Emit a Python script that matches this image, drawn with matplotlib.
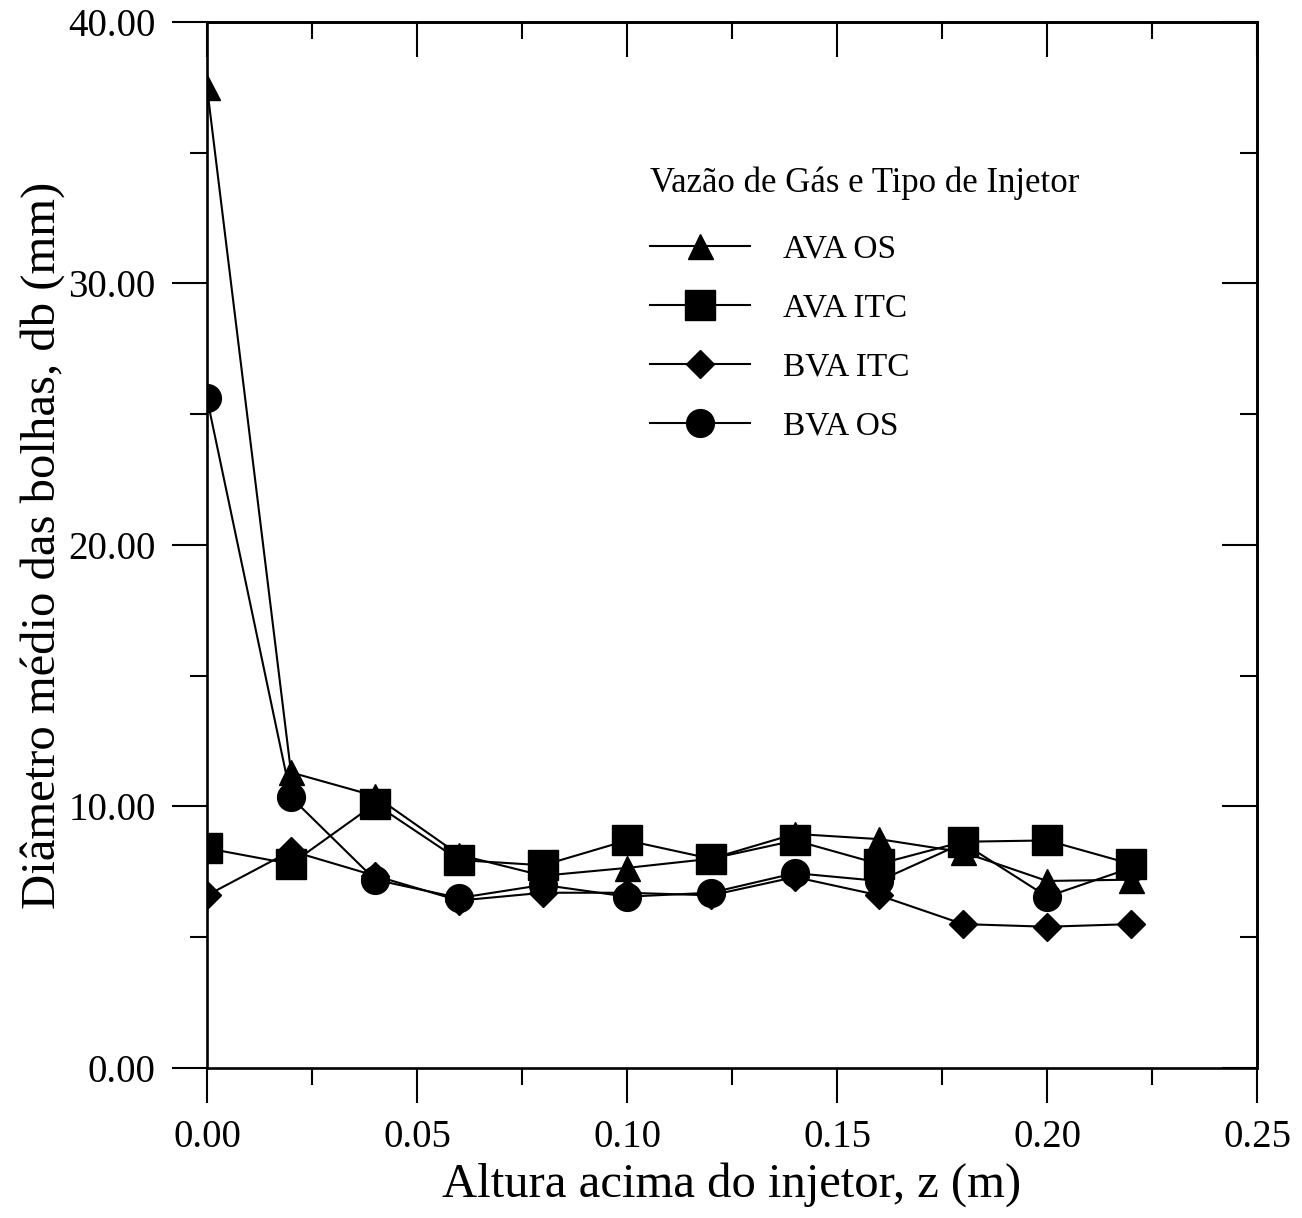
"""
Diâmetro médio das bolhas vs altura acima do injetor.
Recria o gráfico (estilo SigmaPlot) com matplotlib.
"""

import matplotlib
matplotlib.use("Agg")
import matplotlib.pyplot as plt
from matplotlib.ticker import MultipleLocator, FormatStrFormatter

# dados
z = [0.00, 0.02, 0.04, 0.06, 0.08, 0.10, 0.12, 0.14, 0.16, 0.18, 0.20, 0.22]

ava_os = [37.5, 11.3, 10.4, 8.15, 7.35, 7.65, 8.0, 8.95, 8.75, 8.25, 7.15, 7.2]
ava_itc = [8.4, 7.8, 10.1, 7.95, 7.75, 8.7, 8.0, 8.7, 7.8, 8.65, 8.7, 7.8]
bva_itc = [6.6, 8.3, 7.35, 6.4, 6.7, 6.7, 6.6, 7.3, 6.6, 5.5, 5.4, 5.5]
bva_os = [25.6, 10.35, 7.2, 6.5, 7.0, 6.55, 6.7, 7.45, 7.15, 8.6, 6.55, 7.65]

labels = ["AVA OS", "AVA ITC", "BVA ITC", "BVA OS"]

plt.rcParams["font.family"] = ["Liberation Serif", "DejaVu Serif"]

fig = plt.figure(figsize=(13.02, 12.18), dpi=100)
ax = fig.add_axes([0.159, 0.1232, 0.8065, 0.8588])

lw = 1.5
ax.plot(z, ava_os, "k-", lw=lw, marker="^", ms=18, label=labels[0])
ax.plot(z, ava_itc, "k-", lw=lw, marker="s", ms=21, label=labels[1])
ax.plot(z, bva_itc, "k-", lw=lw, marker="D", ms=14, label=labels[2])
ax.plot(z, bva_os, "k-", lw=lw, marker="o", ms=20, label=labels[3])

ax.set_xlim(0, 0.25)
ax.set_ylim(0, 40)

ax.xaxis.set_major_locator(MultipleLocator(0.05))
ax.xaxis.set_minor_locator(MultipleLocator(0.025))
ax.yaxis.set_major_locator(MultipleLocator(10))
ax.yaxis.set_minor_locator(MultipleLocator(5))
ax.xaxis.set_major_formatter(FormatStrFormatter("%.2f"))
ax.yaxis.set_major_formatter(FormatStrFormatter("%.2f"))

for s in ax.spines.values():
    s.set_linewidth(1.9)

# ticks para fora em baixo/esquerda, para dentro em cima/direita
ax.tick_params(which="both", direction="out", width=1.5, labelsize=28,
               bottom=True, left=True, top=False, right=False)
ax.tick_params(which="major", length=25, pad=12)
ax.tick_params(which="minor", length=12)

ax_top = ax.secondary_xaxis("top")
ax_top.xaxis.set_major_locator(MultipleLocator(0.05))
ax_top.xaxis.set_minor_locator(MultipleLocator(0.025))
ax_top.tick_params(which="both", direction="in", width=1.5, labeltop=False)
ax_top.tick_params(which="major", length=25)
ax_top.tick_params(which="minor", length=12)
ax_top.spines["top"].set_linewidth(1.9)

ax_r = ax.secondary_yaxis("right")
ax_r.yaxis.set_major_locator(MultipleLocator(10))
ax_r.yaxis.set_minor_locator(MultipleLocator(5))
ax_r.tick_params(which="both", direction="in", width=1.5, labelright=False)
ax_r.tick_params(which="major", length=25)
ax_r.tick_params(which="minor", length=12)
ax_r.spines["right"].set_linewidth(1.9)

ax.set_xlabel("Altura acima do injetor, z (m)", fontsize=35, labelpad=4)
ax.set_ylabel("Diâmetro médio das bolhas, db (mm)", fontsize=35, labelpad=2)

leg = ax.legend(loc="upper left", bbox_to_anchor=(0.422, 0.862),
                frameon=False, fontsize=24, title="Vazão de Gás e Tipo de Injetor",
                title_fontsize=25, alignment="left", handlelength=3.0,
                handletextpad=1.0, labelspacing=0.85, borderpad=0,
                borderaxespad=0)
leg._legend_box.sep = 25

fig.savefig("out.png", dpi=100)
